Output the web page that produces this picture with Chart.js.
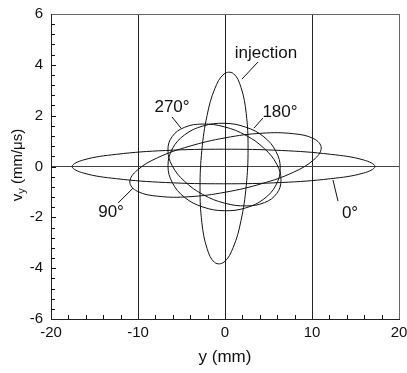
<!DOCTYPE html>
<html>
<head>
<meta charset="utf-8">
<script src="https://cdn.jsdelivr.net/npm/chart.js@4/dist/chart.umd.min.js"></script>
<style>
html, body { margin: 0; padding: 0; background: #fff; }
</style>
</head>
<body>
<canvas id="myChart" width="407" height="373"></canvas>
<script>
'use strict';
// axis ticks
const xTicks = [-20, -10, 0, 10, 20];
const yTicks = [-6, -4, -2, 0, 2, 4, 6];

// ellipses: y (mm) and v_y (mm/us)
const injY = [2.65, 2.44, 1.84, 0.95, -0.11, -1.17, -2.06, -2.66, -2.87, -2.66, -2.06, -1.17, -0.11, 0.95, 1.84, 2.44];
const injV = [0.72, 2.08, 3.11, 3.66, 3.64, 3.06, 2.01, 0.64, -0.84, -2.20, -3.23, -3.78, -3.76, -3.18, -2.13, -0.76];

const y0 = [17.23, 15.91, 12.13, 6.49, -0.17, -6.83, -12.47, -16.25, -17.57, -16.25, -12.47, -6.83, -0.17, 6.49, 12.13, 15.91];
const v0 = [0, 0.26, 0.48, 0.63, 0.68, 0.63, 0.48, 0.26, 0, -0.26, -0.48, -0.63, -0.68, -0.63, -0.48, -0.26];

const y90 = [11.06, 10.22, 7.84, 4.27, 0.06, -4.15, -7.72, -10.10, -10.94, -10.10, -7.72, -4.15, 0.06, 4.27, 7.84, 10.22];
const v90 = [0.73, 1.09, 1.29, 1.31, 1.13, 0.79, 0.35, -0.15, -0.61, -0.97, -1.17, -1.19, -1.01, -0.67, -0.23, 0.27];

const y180 = [6.35, 5.86, 4.46, 2.37, -0.10, -2.57, -4.66, -6.06, -6.55, -6.06, -4.66, -2.57, -0.10, 2.37, 4.46, 5.86];
const v180 = [-0.07, 0.59, 1.17, 1.55, 1.70, 1.59, 1.24, 0.69, 0.03, -0.63, -1.21, -1.59, -1.74, -1.63, -1.28, -0.73];

const y270 = [6.44, 5.95, 4.54, 2.43, -0.06, -2.55, -4.66, -6.07, -6.56, -6.07, -4.66, -2.55, -0.06, 2.43, 4.54, 5.95];
const v270 = [-0.53, 0.09, 0.70, 1.22, 1.56, 1.67, 1.54, 1.18, 0.65, 0.03, -0.58, -1.10, -1.44, -1.55, -1.42, -1.06];

// labels and their leader lines (data units)
const labelText = ['injection', '270°', '180°', '90°', '0°'];
const labelY = [4.71, -6.09, 6.32, -13.1, 14.37];
const labelV = [4.47, 2.34, 2.14, -1.79, -1.83];
const leadY1 = [3.79, -6.09, 4.37, -12.3, 12.99];
const leadV1 = [4.11, 1.95, 1.91, -1.44, -1.36];
const leadY2 = [1.95, -5.06, 3.33, -10.57, 12.41];
const leadV2 = [3.44, 1.51, 1.51, -0.85, -0.53];

const FONT = 'Liberation Sans, Arial, Helvetica, sans-serif';
const INK = '#111';
const EDGE = '#666';

const toPoints = (ys, vs) => ys.map((y, i) => ({ x: y, y: vs[i] }));

const ellipse = (label, ys, vs) => ({
  label: label,
  data: toPoints(ys, vs),
  showLine: true,
  borderColor: INK,
  borderWidth: 1,
  pointRadius: 0,
  tension: 0.4,
  fill: false,
});

const data = {
  datasets: [
    ellipse('injection', injY, injV),
    ellipse('0°', y0, v0),
    ellipse('90°', y90, v90),
    ellipse('180°', y180, v180),
    ellipse('270°', y270, v270),
  ],
};

// make every line a closed smooth loop
const closeLoops = {
  id: 'closeLoops',
  afterDatasetsUpdate(chart) {
    chart.getSortedVisibleDatasetMetas().forEach(meta => {
      const line = meta.dataset;
      if (!line) return;
      line._loop = true;
      line._fullLoop = true;
      line._pointsUpdated = false;
      delete line._segments;
      line._path = undefined;
    });
  },
  beforeDatasetsDraw(chart) {
    chart.getSortedVisibleDatasetMetas().forEach(meta => {
      if (meta.dataset) meta.dataset.updateControlPoints(chart.chartArea, 'x');
    });
  },
};

// inward ticks, y title, labels
const extras = {
  id: 'extras',
  afterDraw(chart) {
    const ctx = chart.ctx;
    const xs = chart.scales.x;
    const ys = chart.scales.y;
    const area = chart.chartArea;
    ctx.save();
    ctx.strokeStyle = INK;
    ctx.lineWidth = 1;
    ctx.beginPath();
    for (let i = -9; i <= 9; i++) {
      if (i % 5 === 0) continue;
      const px = Math.round(xs.getPixelForValue(i * 2)) + 0.5;
      ctx.moveTo(px, area.bottom);
      ctx.lineTo(px, area.bottom - 4);
    }
    for (let i = -14; i <= 14; i++) {
      const py = Math.round(ys.getPixelForValue(i * 0.4)) + 0.5;
      const len = i % 5 === 0 ? 5 : 4;
      ctx.moveTo(area.left, py);
      ctx.lineTo(area.left + len, py);
    }
    ctx.stroke();

    // leader lines
    ctx.beginPath();
    labelText.forEach((t, i) => {
      ctx.moveTo(xs.getPixelForValue(leadY1[i]), ys.getPixelForValue(leadV1[i]));
      ctx.lineTo(xs.getPixelForValue(leadY2[i]), ys.getPixelForValue(leadV2[i]));
    });
    ctx.stroke();

    ctx.fillStyle = INK;
    ctx.font = '17px ' + FONT;
    ctx.textAlign = 'center';
    ctx.textBaseline = 'middle';
    labelText.forEach((t, i) => {
      ctx.fillText(t, xs.getPixelForValue(labelY[i]), ys.getPixelForValue(labelV[i]));
    });

    // y axis title with subscript
    ctx.translate(18, 165);
    ctx.rotate(-Math.PI / 2);
    ctx.textAlign = 'left';
    ctx.font = '15px ' + FONT;
    const wV = ctx.measureText('v').width;
    const rest = ' (mm/μs)';
    const wR = ctx.measureText(rest).width;
    ctx.font = '11px ' + FONT;
    const wS = ctx.measureText('y').width;
    let x = -(wV + wS + wR) / 2;
    ctx.font = '15px ' + FONT;
    ctx.fillText('v', x, 0);
    x += wV;
    ctx.font = '11px ' + FONT;
    ctx.fillText('y', x, 4);
    x += wS;
    ctx.font = '15px ' + FONT;
    ctx.fillText(rest, x, 0);
    ctx.restore();
  },
};

const tickFont = { family: FONT, size: 15 };

const config = {
  type: 'scatter',
  data: data,
  options: {
    responsive: false,
    animation: false,
    events: [],
    layout: { padding: { top: 14, right: 8, left: 0, bottom: 0 } },
    plugins: { legend: { display: false }, tooltip: { enabled: false } },
    scales: {
      x: {
        type: 'linear',
        min: -20,
        max: 20,
        afterBuildTicks: s => { s.ticks = xTicks.map(v => ({ value: v })); },
        afterFit: s => { s.height = 54; s.paddingLeft = 0; s.paddingRight = 0; },
        grid: {
          color: c => (c.tick && c.tick.value === 20) ? EDGE : '#222',
          lineWidth: 1,
          drawTicks: false,
        },
        border: { color: '#222', width: 1 },
        ticks: { padding: 5, color: INK, font: tickFont, maxRotation: 0, autoSkip: false },
        title: { display: true, text: 'y (mm)', color: INK, font: { family: FONT, size: 17 }, padding: { top: 0, bottom: 5 } },
      },
      y: {
        type: 'linear',
        min: -6,
        max: 6,
        afterBuildTicks: s => { s.ticks = yTicks.map(v => ({ value: v })); },
        afterFit: s => { s.width = 51; s.paddingTop = 0; s.paddingBottom = 0; },
        grid: {
          color: c => {
            if (!c.tick) return 'rgba(0,0,0,0)';
            if (c.tick.value === 0) return '#444';
            if (c.tick.value === 6) return EDGE;
            return 'rgba(0,0,0,0)';
          },
          lineWidth: 1,
          drawTicks: false,
        },
        border: { color: '#222', width: 1 },
        ticks: { padding: 8, color: INK, font: tickFont },
      },
    },
  },
  plugins: [closeLoops, extras],
};

const myChart = new Chart(document.getElementById('myChart'), config);
</script>
</body>
</html>
